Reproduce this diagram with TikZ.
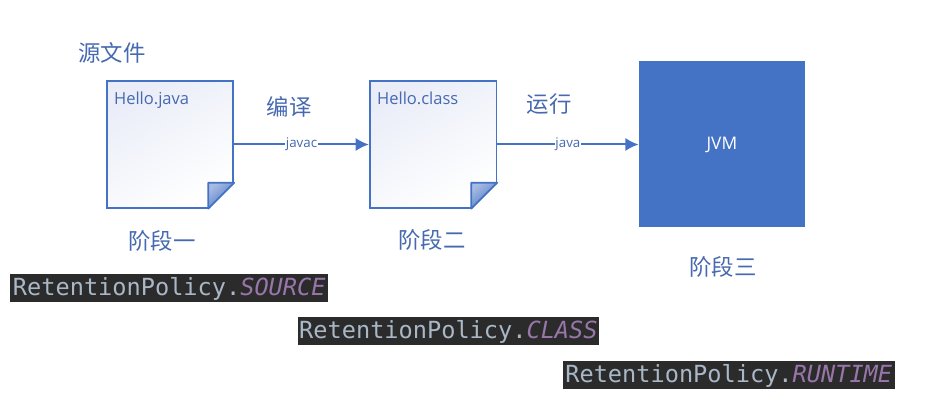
\documentclass[tikz,border=0pt]{standalone}
\usepackage{fontspec}
\setmainfont{Open Sans}
\setmonofont{DejaVu Sans Mono}
\newfontfamily\cjk{Noto Sans CJK SC}
\usetikzlibrary{arrows.meta,positioning,calc}
\definecolor{softblue}{RGB}{68,114,196}
\definecolor{softink}{RGB}{70,105,175}
\definecolor{softpage}{RGB}{234,237,248}
\definecolor{codebg}{RGB}{43,43,43}
\definecolor{codefg}{RGB}{169,183,198}
\definecolor{codeconst}{RGB}{152,118,170}
\tikzset{
  docbox/.style={draw=softblue,line width=1.3pt,minimum size=95pt,inner sep=0pt,shading=axis,top color=softpage,middle color=white,bottom color=white,shading angle=30},
  doctext/.style={font=\fontsize{12.4}{15}\selectfont,text=softink,inner sep=0pt},
  zhlabel/.style={font=\cjk\fontsize{16.8}{20}\selectfont,text=softink,inner sep=0pt},
  flowlabel/.style={font=\fontsize{10}{12}\selectfont,text=softink,fill=white,inner sep=0.5pt},
  codebar/.style={fill=codebg,text=codefg,font=\ttfamily\fontsize{17.7}{20}\selectfont,inner sep=0pt,minimum height=21.5pt,text height=14.5pt,text depth=2.5pt},
  flowarrow/.style={-{Latex[length=10pt,width=10pt]},draw=softblue,line width=1.5pt}
}
\newcommand{\codeconst}[1]{\textcolor{codeconst}{\textit{#1}}}
% dog-ear in the lower right corner of a page
\newcommand{\pagefold}[1]{
  \fill[white] ($(#1.south east)+(-20pt,-1.2pt)$)--($(#1.south east)+(1.2pt,-1.2pt)$)--($(#1.south east)+(1.2pt,20pt)$)--cycle;
  \shade[top color=softpage!60!softblue,bottom color=softblue,shading angle=40] ($(#1.south east)+(-19.5pt,0)$)--($(#1.south east)+(-19.5pt,19.5pt)$)--($(#1.south east)+(0,19.5pt)$)--cycle;
  \draw[softblue,line width=1.3pt,line join=round] ($(#1.south east)+(-19.5pt,0)$)--($(#1.south east)+(-19.5pt,19.5pt)$)--($(#1.south east)+(0,19.5pt)$)--cycle;
}
\begin{document}
\begin{tikzpicture}[x=0.75pt,y=-0.75pt,node distance=101pt]
\useasboundingbox (0,0) rectangle (929,416);
\node[docbox] (javafile) at (170,144.5) {};
\node[docbox,right=of javafile] (classfile) {};
\node[fill=softblue,text=white,minimum size=124.5pt,inner sep=0pt,font=\fontsize{13}{15}\selectfont,right=106pt of classfile] (jvm) {JVM};
\pagefold{javafile}
\pagefold{classfile}
\node[doctext,anchor=north west] (javaname) at ($(javafile.north west)+(8,11)$) {Hello.java};
\node[doctext,anchor=north west] (classname) at ($(classfile.north west)+(8,11)$) {Hello.class};
\draw[flowarrow] (javafile)--node[flowlabel] (javac) {javac} (classfile);
\draw[flowarrow] (classfile)--node[flowlabel] (java) {java} (jvm);
\node[zhlabel] (source) at (112,53) {源文件};
\node[zhlabel] (compile) at (289,107) {编译};
\node[zhlabel] (run) at (549,104) {运行};
\node[zhlabel] (stage1) at (162,241) {阶段一};
\node[zhlabel] (stage2) at (432,240) {阶段二};
\node[zhlabel] (stage3) at (723,267) {阶段三};
\node[codebar,anchor=west,minimum width=238.5pt] (sourcebar) at (10,288) {RetentionPolicy.\codeconst{SOURCE}};
\node[codebar,anchor=west,minimum width=226pt] (classbar) at (297.5,331) {RetentionPolicy.\codeconst{CLASS}};
\node[codebar,anchor=west,minimum width=249pt] (runtimebar) at (562.5,375) {RetentionPolicy.\codeconst{RUNTIME}};
\end{tikzpicture}
\end{document}
